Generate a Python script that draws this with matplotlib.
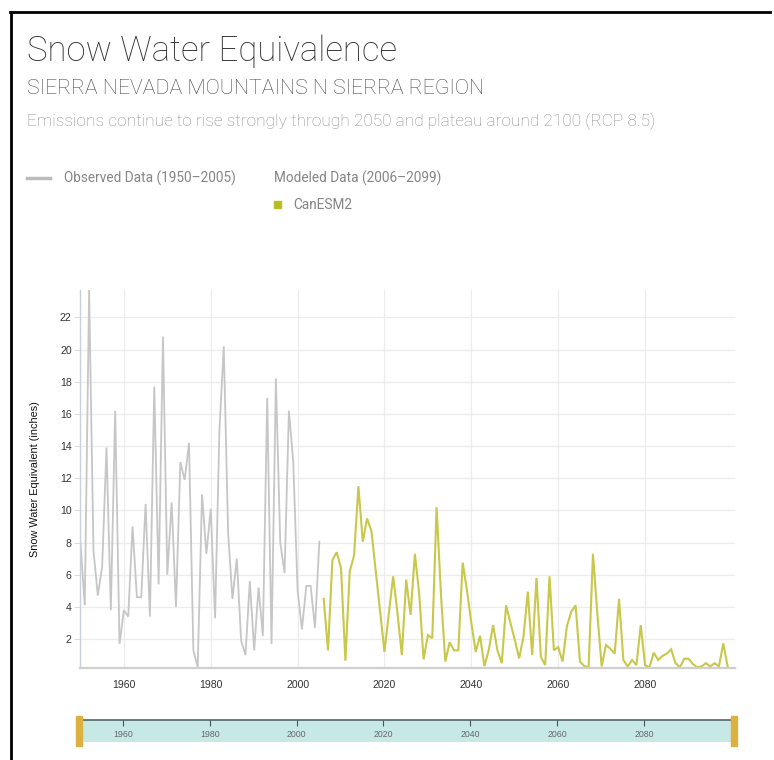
import matplotlib
matplotlib.use('Agg')
import matplotlib.pyplot as plt
from matplotlib.patches import Rectangle
from matplotlib.lines import Line2D

# ---------------- data ----------------
obs_years = list(range(1950, 2006))
obs_values = [8.0, 4.1, 23.7, 7.5, 4.7, 6.5, 13.9, 3.8, 16.2, 1.7,
              3.8, 3.4, 9.0, 4.6, 4.6, 10.4, 3.4, 17.7, 5.4, 20.8,
              6.0, 10.5, 4.0, 13.0, 11.9, 14.2, 1.3, 0.25, 11.0, 7.3,
              10.1, 3.3, 15.0, 20.2, 8.6, 4.5, 7.0, 1.9, 1.0, 5.6,
              1.3, 5.2, 2.2, 17.0, 1.7, 18.2, 8.0, 6.1, 16.2, 13.0,
              5.0, 2.6, 5.3, 5.3, 2.7, 8.05]

mod_years = list(range(2006, 2100))
canesm2_values = [4.5, 1.3, 6.9, 7.4, 6.4, 0.65, 6.2, 7.2, 11.5, 8.05,
                  9.5, 8.7, 6.2, 3.7, 1.2, 3.6, 5.9, 3.6, 1.0, 5.7,
                  3.5, 7.3, 4.8, 0.74, 2.25, 2.05, 10.2, 4.8, 0.6, 1.8,
                  1.3, 1.3, 6.75, 5.0, 3.0, 1.2, 2.2, 0.32, 1.3, 2.87,
                  1.3, 0.5, 4.1, 3.0, 1.95, 0.8, 2.15, 4.95, 1.0, 5.8,
                  0.9, 0.38, 5.9, 1.3, 1.5, 0.6, 2.8, 3.7, 4.1, 0.6,
                  0.32, 0.25, 7.3, 3.6, 0.3, 1.63, 1.4, 1.1, 4.5, 0.7,
                  0.3, 0.7, 0.38, 2.87, 0.38, 0.25, 1.15, 0.7, 0.95, 1.1,
                  1.36, 0.5, 0.25, 0.78, 0.78, 0.45, 0.25, 0.3, 0.5, 0.3,
                  0.5, 0.3, 1.73, 0.3]

y_ticks = [2, 4, 6, 8, 10, 12, 14, 16, 18, 20, 22]
x_ticks = [1960, 1980, 2000, 2020, 2040, 2060, 2080]

title = "Snow Water Equivalence"
subtitle = "SIERRA NEVADA MOUNTAINS N SIERRA REGION"
scenario = "Emissions continue to rise strongly through 2050 and plateau around 2100 (RCP 8.5)"
obs_label = "Observed Data (1950\u20132005)"
mod_label = "Modeled Data (2006\u20132099)"
model_name = "CanESM2"
y_label = "Snow Water Equivalent (inches)"

# ---------------- styles ----------------
OBS_COLOR = '#c6c6c6'
MOD_COLOR = '#c8c84a'
LEG_SQ = '#b9bc22'
GRID = '#ececec'
TEAL = '#c6e9e6'
GOLD = '#ddb042'

W, H = 774, 760
fig = plt.figure(figsize=(W / 100, H / 100), dpi=100)


def fx(px):
    return px / W


def fy(py):
    return 1 - py / H


# border of the card
fig.add_artist(Line2D([fx(11), fx(11)], [fy(12), fy(760)], color='black', lw=2))
fig.add_artist(Line2D([fx(10), fx(770)], [fy(12), fy(12)], color='black', lw=2))

# titles
fig.text(fx(27), fy(61), title, fontsize=25, family='Roboto', fontweight='light',
         color='#333333', va='baseline')
fig.text(fx(27), fy(94), subtitle, fontsize=15.3, family='Roboto', fontweight='light',
         color='#4a4a4a', va='baseline')
fig.text(fx(27), fy(126), scenario, fontsize=12.4, family='Roboto', fontweight='light',
         color='#8c8c8c', va='baseline')

# legend
fig.add_artist(Line2D([fx(27), fx(50)], [fy(178), fy(178)], color='#bbbbbb', lw=2.5))
fig.text(fx(64), fy(178), obs_label, fontsize=9.8, family='Roboto', color='#858585', va='center')
fig.text(fx(274), fy(178), mod_label, fontsize=9.8, family='Roboto', color='#858585', va='center')
fig.add_artist(Rectangle((fx(274), fy(208)), fx(7), 7 / H, color=LEG_SQ, transform=fig.transFigure))
fig.text(fx(293), fy(205), model_name, fontsize=9.8, family='Roboto', color='#858585', va='center')

# ---------------- main axes ----------------
ax = fig.add_axes([fx(80), fy(667.7), fx(655), (667.7 - 290) / H])
ax.plot(obs_years, obs_values, color=OBS_COLOR, lw=1.3, solid_joinstyle='miter')
ax.plot(mod_years, canesm2_values, color=MOD_COLOR, lw=1.5, solid_joinstyle='miter')
ax.set_xlim(1949.9, 2100.7)
ax.set_ylim(0.22, 23.7)
ax.set_yticks(y_ticks)
ax.set_xticks(x_ticks)
ax.set_yticklabels([str(v) for v in y_ticks], family='Liberation Sans', fontsize=7.6, color='#333333')
ax.set_xticklabels([str(v) for v in x_ticks], family='Liberation Sans', fontsize=7.6, color='#333333')
ax.grid(True, color=GRID, lw=0.9)
ax.set_axisbelow(True)
for s in ['top', 'right']:
    ax.spines[s].set_visible(False)
ax.spines['left'].set_color('#c9d0dc')
ax.spines['left'].set_linewidth(1.0)
ax.spines['bottom'].set_color('#cfcfcf')
ax.spines['bottom'].set_linewidth(1.6)
ax.tick_params(axis='y', length=4, color='#dddddd', pad=2)
ax.tick_params(axis='x', length=0, pad=9)

fig.text(fx(35), fy(479), y_label, rotation=90, fontsize=7.8, family='Liberation Sans',
         color='#111111', ha='center', va='center')

# ---------------- range slider ----------------
ax2 = fig.add_axes([fx(79), fy(742), fx(655), 22 / H])
ax2.set_facecolor(TEAL)
ax2.set_xlim(1949.9, 2100.7)
ax2.set_ylim(0, 1)
ax2.set_yticks([])
ax2.set_xticks(x_ticks)
ax2.tick_params(axis='x', top=True, bottom=False, labelbottom=False, direction='in',
                length=4, color='#445555', width=0.8)
for s in ['left', 'right', 'bottom']:
    ax2.spines[s].set_visible(False)
ax2.spines['top'].set_color('#556666')
ax2.spines['top'].set_linewidth(1.2)
for yr in x_ticks:
    ax2.text(yr, 0.35, str(yr), fontsize=6.3, family='Liberation Sans', color='#666666',
             ha='center', va='center')

for hx in (76, 731):
    fig.add_artist(Rectangle((fx(hx), fy(746)), fx(6), 30 / H, color=GOLD,
                             transform=fig.transFigure))

fig.savefig('out.png', dpi=100)
